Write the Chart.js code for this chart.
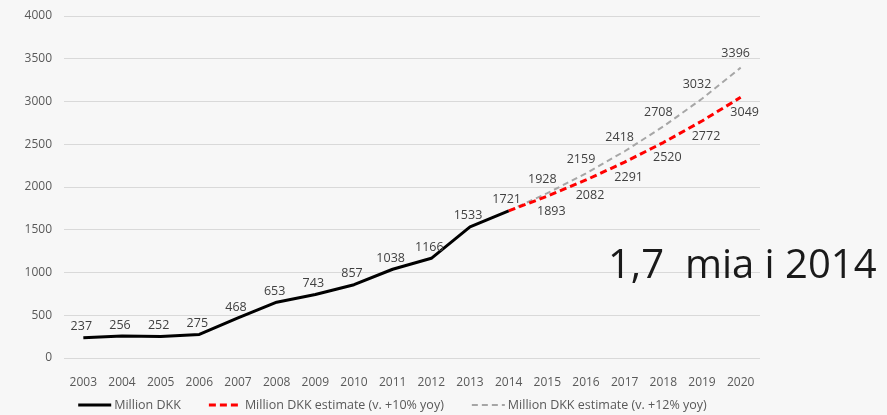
<!DOCTYPE html>
<html>
<head>
<meta charset="utf-8">
<script src="https://cdn.jsdelivr.net/npm/chart.js@4.4.1/dist/chart.umd.min.js"></script>
<style>
  html, body { margin: 0; padding: 0; background: #f7f7f7; }
  #wrap { position: relative; width: 887px; height: 415px; }
  #box { position: absolute; left: 0; top: 0; width: 785px; height: 415px; }
  #note {
    position: absolute; left: 608px; top: 243px;
    font-family: "Open Sans", sans-serif; font-size: 40px; color: #1a1a1a;
    white-space: pre; line-height: 1;
  }
</style>
</head>
<body>
<div id="wrap">
  <div id="box"><canvas id="revenueChart"></canvas></div>
  <div id="note">1,7  mia i 2014</div>
</div>
<script>
const years = ['2003', '2004', '2005', '2006', '2007', '2008', '2009', '2010', '2011',
  '2012', '2013', '2014', '2015', '2016', '2017', '2018', '2019', '2020'];
const actual = [237, 256, 252, 275, 468, 653, 743, 857, 1038, 1166, 1533, 1721,
  null, null, null, null, null, null];
const estimate10 = [null, null, null, null, null, null, null, null, null, null, null,
  1721, 1893, 2082, 2291, 2520, 2772, 3049];
const estimate12 = [null, null, null, null, null, null, null, null, null, null, null,
  1721, 1928, 2159, 2418, 2708, 3032, 3396];

const font = '"Open Sans", sans-serif';

// value labels next to each point; the estimates share the 2014 start with the actuals
const pointLabels = {
  id: 'pointLabels',
  afterDatasetsDraw(chart) {
    const ctx = chart.ctx;
    ctx.save();
    ctx.font = '12.5px ' + font;
    ctx.fillStyle = '#404040';
    ctx.textAlign = 'center';
    ctx.textBaseline = 'middle';
    chart.data.datasets.forEach((ds, i) => {
      const meta = chart.getDatasetMeta(i);
      meta.data.forEach((pt, j) => {
        const v = ds.data[j];
        if (v == null || j < ds.labelFrom) return;
        ctx.fillText(String(v), pt.x + ds.labelDx, pt.y + ds.labelDy);
      });
    });
    ctx.restore();
  }
};

// bottom legend: line sample right against its text, wide gaps between entries
const lineLegend = {
  id: 'lineLegend',
  afterDraw(chart) {
    const ctx = chart.ctx;
    const sample = 33, gap = 3, spacing = 28, y = 405;
    ctx.save();
    ctx.font = '12.5px ' + font;
    ctx.textBaseline = 'middle';
    const items = chart.data.datasets.map(ds => ({ ds, w: ctx.measureText(ds.label).width }));
    const total = items.reduce((s, it) => s + sample + gap + it.w, 0) + spacing * (items.length - 1);
    let x = (chart.width - total) / 2;
    items.forEach(({ ds, w }) => {
      ctx.strokeStyle = ds.borderColor;
      ctx.lineWidth = ds.borderWidth;
      ctx.setLineDash(ds.borderDash || []);
      ctx.beginPath();
      ctx.moveTo(x, y);
      ctx.lineTo(x + sample, y);
      ctx.stroke();
      ctx.fillStyle = '#595959';
      ctx.fillText(ds.label, x + sample + gap, y);
      x += sample + gap + w + spacing;
    });
    ctx.restore();
  }
};

const ctx = document.getElementById('revenueChart').getContext('2d');

const chart = new Chart(ctx, {
  type: 'line',
  data: {
    labels: years,
    datasets: [{
      label: 'Million DKK',
      data: actual,
      borderColor: '#000000',
      borderWidth: 3,
      labelFrom: 0, labelDx: -2, labelDy: -11
    }, {
      label: 'Million DKK estimate (v. +10% yoy)',
      data: estimate10,
      borderColor: '#ff0000',
      borderWidth: 3,
      borderDash: [7, 4],
      labelFrom: 12, labelDx: 4, labelDy: 15
    }, {
      label: 'Million DKK estimate (v. +12% yoy)',
      data: estimate12,
      borderColor: '#a6a6a6',
      borderWidth: 2,
      borderDash: [6, 4],
      labelFrom: 12, labelDx: -5, labelDy: -14
    }]
  },
  options: {
    responsive: true,
    maintainAspectRatio: false,
    animation: false,
    layout: { padding: { top: 16, right: 25, left: 0, bottom: 23 } },
    elements: {
      point: { radius: 0 },
      line: { tension: 0, borderJoinStyle: 'round', fill: false }
    },
    plugins: {
      tooltip: { enabled: false },
      legend: { display: false }
    },
    scales: {
      x: {
        offset: true,
        afterFit(scale) { scale.height = 34; },
        grid: { display: false },
        border: { display: false },
        ticks: { font: { family: font, size: 12 }, color: '#595959', padding: 9 }
      },
      y: {
        min: 0,
        max: 4000,
        afterFit(scale) {
          scale.width = 64;
          scale.paddingTop = 0;
        },
        grid: { color: '#d9d9d9', drawTicks: false },
        border: { display: false },
        ticks: {
          stepSize: 500,
          callback: v => String(v),
          font: { family: font, size: 12 },
          color: '#595959',
          padding: 12
        }
      }
    }
  },
  plugins: [pointLabels, lineLegend]
});
</script>
</body>
</html>
